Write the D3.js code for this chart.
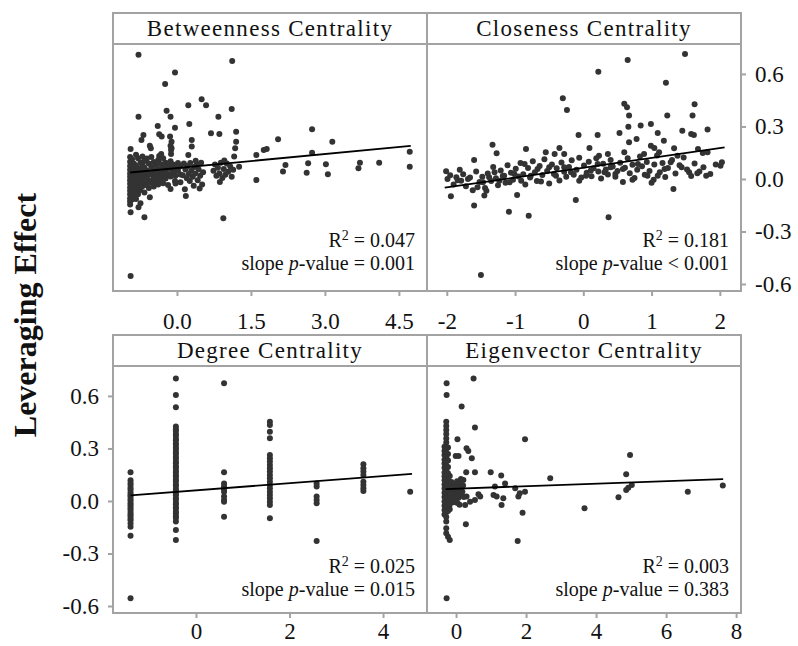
<!DOCTYPE html>
<html>
<head>
<meta charset="utf-8">
<script src="https://cdn.jsdelivr.net/npm/d3@7"></script>
<style>
  body { margin: 0; background: #fff; }
  text { font-family: "Liberation Serif", "Times New Roman", serif; fill: #111; }
</style>
</head>
<body>
<div id="chart"></div>
<script>
var svgWidth = 798;
var svgHeight = 646;

// panel titles, stats and ticks
var titles = ["Betweenness Centrality", "Closeness Centrality", "Degree Centrality", "Eigenvector Centrality"];
var r2Values = ["0.047", "0.181", "0.025", "0.003"];
var pValues = ["= 0.001", "< 0.001", "= 0.015", "= 0.383"];
var btwTicks = [0, 1.5, 3, 4.5];
var clsTicks = [-2, -1, 0, 1, 2];
var degTicks = [0, 2, 4];
var eigTicks = [0, 2, 4, 6, 8];
var yTicks = [-0.6, -0.3, 0, 0.3, 0.6];

// fitted lines (end points)
var btwLine = [[-0.95, 0.037], [4.74, 0.189]];
var clsLine = [[-2.03, -0.05], [2.07, 0.18]];
var degLine = [[-1.4, 0.032], [4.62, 0.155]];
var eigLine = [[-0.3, 0.068], [7.63, 0.125]];

// points [x, leveraging effect]
var btwPts = [
  [-0.78,0.709],[1.12,0.674],[-0.04,0.608],[-0.24,0.543],[0.50,0.455],[0.59,0.421],[0.23,0.421],[1.11,0.40],
  [-0.21,0.39],[-0.78,0.356],[-0.13,0.356],[0.84,0.356],[0.25,0.314],[-0.39,0.303],[-0.04,0.293],[2.74,0.284],
  [1.20,0.27],[0.69,0.261],[0.86,0.257],[-0.36,0.255],[-0.31,0.242],[-0.68,0.251],[-0.14,0.242],[2.05,0.227],
  [3.15,0.213],[-0.72,0.223],[0.30,0.223],[-0.11,0.213],[1.20,0.213],[-0.55,0.19],[0.30,0.185],[-0.53,0.175],
  [1.18,0.175],[-0.94,0.171],[-0.11,0.175],[1.82,0.171],[1.76,0.166],[1.61,0.137],[2.74,0.15],[-0.32,0.143],
  [-0.36,0.131],[1.16,0.128],[0.23,0.137],[4.72,0.156],[4.72,0.07],[4.10,0.093],[3.71,0.093],[3.68,0.061],
  [3.02,0.084],[3.06,0.027],[2.66,0.09],[2.63,0.036],[2.20,0.08],[2.15,0.042],[1.61,-0.006],[1.26,0.07],
  [0.94,-0.225],[-0.94,-0.19],[-0.78,-0.162],[-0.66,-0.219],[-0.55,-0.105],[-0.94,-0.554],[0.18,-0.097],
  [0.16,-0.059],[-0.04,-0.011],
  [-0.95,0.125],[-0.95,0.098],[-0.95,0.074],[-0.95,0.052],[-0.95,0.031],[-0.95,0.012],[-0.95,-0.008],
  [-0.95,-0.027],[-0.95,-0.049],[-0.95,-0.068],[-0.95,-0.087],[-0.95,-0.11],[-0.95,-0.128],[-0.95,-0.146],
  [-0.91,0.112],[-0.91,0.064],[-0.91,0.041],[-0.91,0.003],[-0.91,-0.036],[-0.91,-0.075],[-0.91,-0.118],
  [-0.87,0.087],[-0.87,0.053],[-0.87,0.021],[-0.87,-0.015],[-0.87,-0.058],[-0.87,-0.097],
  [-0.83,0.138],[-0.83,0.076],[-0.83,0.044],[-0.83,0.009],[-0.83,-0.032],[-0.83,-0.071],[-0.83,-0.114],
  [-0.79,0.118],[-0.79,0.061],[-0.79,0.027],[-0.79,-0.006],[-0.79,-0.046],[-0.79,-0.088],
  [-0.74,0.094],[-0.74,0.058],[-0.74,0.018],[-0.74,-0.021],[-0.74,-0.063],[-0.74,-0.139],
  [-0.70,0.129],[-0.70,0.079],[-0.70,0.037],[-0.70,0.001],[-0.70,-0.042],
  [-0.66,0.103],[-0.66,0.066],[-0.66,0.022],[-0.66,-0.018],[-0.66,-0.078],
  [-0.61,0.117],[-0.61,0.049],[-0.61,0.011],[-0.61,-0.036],
  [-0.57,0.088],[-0.57,0.033],[-0.57,-0.009],[-0.57,-0.052],
  [-0.52,0.126],[-0.52,0.069],[-0.52,0.024],[-0.52,-0.021],
  [-0.47,0.097],[-0.47,0.051],[-0.47,0.004],[-0.47,-0.043],
  [-0.43,0.081],[-0.43,0.032],[-0.43,-0.014],
  [-0.38,0.109],[-0.38,0.057],[-0.38,0.016],[-0.38,-0.031],
  [-0.33,0.085],[-0.33,0.039],[-0.33,-0.006],
  [-0.28,0.118],[-0.28,0.066],[-0.28,0.021],[-0.28,-0.024],
  [-0.23,0.092],[-0.23,0.047],[-0.23,0.003],
  [-0.18,0.074],[-0.18,0.028],[-0.18,-0.035],
  [-0.13,0.101],[-0.13,0.058],[-0.13,0.014],[-0.13,-0.058],
  [-0.08,0.083],[-0.08,0.037],[-0.03,0.065],[-0.03,0.019],[-0.03,-0.026],
  [0.02,0.091],[0.02,0.048],[0.07,0.072],[0.07,0.025],[0.07,-0.019],
  [-0.12,0.143],[-0.12,0.165],[-0.13,0.19],
  [0.14,0.088],[0.17,0.054],[0.21,0.073],[0.24,0.029],[0.27,0.091],[0.29,0.047],[0.32,0.012],[0.35,0.069],
  [0.37,0.031],[0.40,0.082],[0.42,-0.008],[0.44,0.054],[0.47,0.019],[0.49,0.093],[0.51,-0.031],[0.53,0.038],
  [0.26,-0.012],[0.20,0.004],[0.34,-0.039],[0.46,-0.055],[0.12,0.021],[0.38,0.104],
  [0.74,0.047],[0.77,0.082],[0.80,0.018],[0.83,0.064],[0.86,0.031],[0.89,0.093],[0.92,0.006],[0.95,0.057],
  [0.98,0.024],[1.01,0.088],[1.04,0.041],[1.08,0.071],[1.11,0.012],[0.87,-0.018],[0.96,0.106],[1.14,0.052]
];

var clsPts = [
  [1.49,0.714],[0.65,0.68],[0.22,0.613],[1.21,0.549],[-0.30,0.461],[-0.24,0.394],[0.60,0.429],[0.64,0.41],
  [1.63,0.427],[0.67,0.362],[1.23,0.362],[1.60,0.362],[0.66,0.299],[0.84,0.305],[0.99,0.314],[0.53,0.263],
  [0.21,0.251],[-0.07,0.251],[1.45,0.276],[1.58,0.257],[1.62,0.251],[1.82,0.282],[1.09,0.263],[-1.33,0.196],
  [0.78,0.229],[0.67,0.21],[1.18,0.219],[0.99,0.19],[1.04,0.177],[1.33,0.175],[-0.35,0.177],[0.09,0.177],
  [-1.60,0.109],[-1.27,0.147],[-0.84,0.171],[-0.55,0.152],[-0.42,0.143],[-0.28,0.143],[0.23,0.133],[0.36,0.143],
  [0.60,0.152],[0.89,0.143],[1.11,0.152],[1.38,0.133],[1.68,0.171],[1.75,0.149],[1.82,0.152],[-2.01,0.044],
  [-1.81,0.053],[-1.99,0.0],[-1.94,-0.099],[-1.60,-0.152],[-1.55,-0.048],[-1.45,-0.095],[-1.42,-0.067],
  [-1.09,-0.187],[-0.80,-0.21],[-0.97,-0.091],[-0.11,-0.12],[0.37,-0.219],[1.32,-0.057],[-1.50,-0.549],
  [2.01,0.076],[2.03,0.095],[1.80,0.019],[1.67,0.032],[1.55,0.038],[1.44,0.067],[1.28,0.095],[1.19,0.057],
  [1.09,0.019],[1.03,-0.004],[0.94,0.019],[0.80,0.086],[0.72,-0.004],[0.58,0.057],[0.47,0.029],[0.40,0.067],
  [0.31,0.038],[0.21,0.086],[0.11,0.048],[0.04,0.019],[-0.06,-0.01],[-0.18,0.038],[-0.28,0.067],[-0.40,0.019],
  [-0.50,0.067],[-0.62,-0.015],[-0.67,0.057],[-0.77,0.019],[-0.86,0.086],[-0.91,-0.01],[-1.01,0.029],
  [-1.08,-0.019],[-1.16,0.019],[-1.23,-0.01],[-1.30,0.038],[-1.38,0.01],[-1.47,-0.019],[-1.69,0.0],
  [-1.79,-0.01],[-1.86,0.01],
  [-1.95,0.021],[-1.9,-0.032],[-1.84,-0.008],[-1.76,0.027],[-1.72,-0.041],[-1.66,0.009],[-1.62,-0.064],
  [-1.57,0.043],[-1.52,-0.018],[-1.48,0.012],[-1.44,-0.052],[-1.40,0.031],[-1.35,-0.011],[-1.32,0.068],
  [-1.28,0.004],[-1.25,-0.036],[-1.21,0.049],[-1.18,0.017],[-1.14,-0.022],[-1.11,0.079],[-1.06,0.036],
  [-1.03,-0.005],[-0.99,0.058],[-0.95,0.014],[-0.92,0.091],[-0.88,0.027],[-0.85,-0.031],[-0.81,0.063],
  [-0.78,0.009],[-0.74,0.101],[-0.71,0.038],[-0.68,-0.012],[-0.64,0.074],[-0.6,0.022],[-0.57,0.112],
  [-0.53,0.045],[-0.5,-0.026],[-0.46,0.083],[-0.43,0.029],[-0.39,0.061],[-0.35,-0.009],[-0.32,0.094],
  [-0.28,0.041],[-0.25,0.012],[-0.21,0.069],[-0.17,0.107],[-0.14,0.024],[-0.1,0.052],[-0.06,0.121],
  [-0.03,0.008],[0.01,0.077],[0.05,0.035],[0.08,0.098],[0.12,0.016],[0.15,0.061],[0.19,0.119],[0.22,0.042],
  [0.26,0.003],[0.29,0.087],[0.33,0.054],[0.36,0.026],[0.4,0.108],[0.43,0.071],[0.47,0.012],[0.5,0.046],
  [0.54,0.093],[0.58,-0.018],[0.61,0.064],[0.65,0.118],[0.68,0.033],[0.72,0.081],[0.75,0.005],[0.79,0.052],
  [0.83,0.129],[0.86,0.072],[0.9,0.024],[0.93,0.097],[0.97,0.046],[1.0,-0.021],[1.04,0.083],[1.08,0.134],
  [1.12,0.039],[1.16,0.091],[1.2,0.011],[1.24,0.062],[1.3,0.108],[1.35,0.031],[1.41,0.079],[1.47,0.122],
  [1.52,0.054],[1.58,0.017],[1.63,0.088],[1.7,0.043],[1.76,0.067],[1.86,0.029],[1.94,0.083]
];

var degPts = [
  [-1.4,0.164],[-1.4,0.118],[-1.4,0.103],[-1.4,0.091],[-1.4,0.076],[-1.4,0.064],[-1.4,0.049],[-1.4,0.036],
  [-1.4,0.027],[-1.4,0.012],[-1.4,0.001],[-1.4,-0.013],[-1.4,-0.024],[-1.4,-0.038],[-1.4,-0.049],[-1.4,-0.063],
  [-1.4,-0.076],[-1.4,-0.087],[-1.4,-0.101],[-1.4,-0.112],[-1.4,-0.129],[-1.4,-0.148],[-1.4,-0.198],[-1.4,-0.556],
  [-0.43,0.70],[-0.43,0.606],[-0.43,0.535],[-0.43,0.425],[-0.43,0.409],[-0.43,0.399],[-0.43,0.382],[-0.43,0.372],
  [-0.43,0.355],[-0.43,0.347],[-0.43,0.329],[-0.43,0.319],[-0.43,0.304],[-0.43,0.293],[-0.43,0.277],[-0.43,0.268],
  [-0.43,0.251],[-0.43,0.241],[-0.43,0.224],[-0.43,0.215],[-0.43,0.198],[-0.43,0.189],[-0.43,0.173],[-0.43,0.162],
  [-0.43,0.147],[-0.43,0.137],[-0.43,0.121],[-0.43,0.111],[-0.43,0.094],[-0.43,0.085],[-0.43,0.068],[-0.43,0.058],
  [-0.43,0.043],[-0.43,0.032],[-0.43,0.016],[-0.43,0.007],[-0.43,-0.01],[-0.43,-0.019],[-0.43,-0.036],[-0.43,-0.045],
  [-0.43,-0.061],[-0.43,-0.071],[-0.43,-0.088],[-0.43,-0.097],[-0.43,-0.118],[-0.43,-0.166],[-0.43,-0.223],
  [0.6,0.672],[0.6,0.164],[0.6,0.10],[0.6,0.082],[0.6,0.068],[0.6,0.053],[0.6,0.025],[0.6,0.006],[0.6,-0.004],[0.6,-0.09],
  [1.58,0.453],[1.58,0.434],[1.58,0.396],[1.58,0.358],[1.58,0.263],[1.58,0.244],[1.58,0.225],[1.58,0.206],
  [1.58,0.187],[1.58,0.168],[1.58,0.149],[1.58,0.13],[1.58,0.11],[1.58,0.091],[1.58,0.072],[1.58,0.053],
  [1.58,0.034],[1.58,0.015],[1.58,-0.004],[1.58,-0.023],[1.58,-0.099],
  [2.58,0.10],[2.58,0.082],[2.58,0.025],[2.58,0.006],[2.58,-0.013],[2.58,-0.229],
  [3.58,0.21],[3.58,0.187],[3.58,0.168],[3.58,0.149],[3.58,0.11],[3.58,0.091],[3.58,0.072],[3.58,0.057],
  [4.58,0.053]
];

var eigPts = [
  [-0.27,0.672],[-0.27,0.606],[0.50,0.70],[0.16,0.539],[0.54,0.419],[1.97,0.352],[0.04,0.352],[0.30,0.301],
  [0.35,0.286],[-0.01,0.257],[0.07,0.257],[0.45,0.244],[4.97,0.263],[0.29,0.164],[0.54,0.164],[0.99,0.164],
  [1.29,0.145],[4.86,0.152],[2.69,0.13],[0.21,0.12],[1.40,0.10],[1.11,0.082],[1.69,0.072],[1.97,0.053],
  [1.78,0.025],[1.82,0.044],[1.07,0.034],[1.16,0.025],[1.35,0.015],[1.30,-0.023],[0.69,0.025],[0.54,0.006],
  [0.64,0.038],[0.30,0.025],[0.40,-0.004],[0.26,-0.023],[0.28,-0.133],[1.90,-0.067],[1.76,-0.229],[3.67,-0.042],
  [4.64,0.021],[4.86,0.063],[4.92,0.076],[5.02,0.091],[6.62,0.053],[7.62,0.088],[-0.27,-0.556],
  [-0.33,0.31],[-0.33,0.285],[-0.33,0.262],[-0.33,0.236],[-0.33,0.214],[-0.33,0.19],[-0.33,0.163],[-0.33,0.141],
  [-0.33,0.118],[-0.33,0.094],[-0.33,0.071],[-0.33,0.047],[-0.33,0.022],[-0.33,-0.003],[-0.33,-0.027],
  [-0.33,-0.052],[-0.33,-0.078],
  [-0.28,0.452],[-0.28,0.428],[-0.28,0.405],[-0.28,0.383],[-0.28,0.357],[-0.28,0.334],[-0.28,0.299],[-0.28,0.274],
  [-0.28,0.249],[-0.28,0.226],[-0.28,0.201],[-0.28,0.177],[-0.28,0.152],[-0.28,0.129],[-0.28,0.106],[-0.28,0.083],
  [-0.28,0.058],[-0.28,0.035],[-0.28,0.011],[-0.28,-0.014],[-0.28,-0.04],[-0.28,-0.065],[-0.28,-0.091],
  [-0.28,-0.118],[-0.28,-0.156],[-0.28,-0.185],
  [-0.23,0.305],[-0.23,0.268],[-0.23,0.231],[-0.23,0.194],[-0.23,0.158],[-0.23,0.121],[-0.23,0.087],[-0.23,0.064],
  [-0.23,0.041],[-0.23,0.018],[-0.23,-0.006],[-0.23,-0.031],[-0.23,-0.058],[-0.23,-0.204],
  [-0.18,0.142],[-0.18,0.098],[-0.18,0.076],[-0.18,0.052],[-0.18,0.029],[-0.18,0.004],[-0.18,-0.021],
  [-0.18,-0.047],[-0.18,-0.223],
  [-0.13,0.108],[-0.1,0.081],[-0.08,0.054],[-0.05,0.096],[-0.03,0.032],[0.0,0.068],[0.02,0.041],[0.05,0.087],
  [0.07,0.018],[0.09,0.059],[0.11,0.103],[0.13,0.037],[0.15,0.074],[0.18,0.052],[0.2,0.089],[0.22,0.023],
  [-0.12,0.013],[-0.07,-0.008],[-0.02,0.005],[0.04,-0.012],[0.1,-0.021],[-0.15,0.041],[0.14,0.126],[0.03,0.112]
];

// tick format with a plain hyphen as minus
function hyphen(f) {
  return function(d) { return f(d).replace("\u2212", "-"); };
}

var panels = [
  { title: titles[0], pts: btwPts, line: btwLine, ticks: btwTicks, fmt: hyphen(d3.format(".1f")), dom: [-1.297, 5.07], col: 0, row: 0, yAxis: null },
  { title: titles[1], pts: clsPts, line: clsLine, ticks: clsTicks, fmt: hyphen(d3.format("d")), dom: [-2.29, 2.31], col: 1, row: 0, yAxis: "right" },
  { title: titles[2], pts: degPts, line: degLine, ticks: degTicks, fmt: hyphen(d3.format("d")), dom: [-1.775, 4.94], col: 0, row: 1, yAxis: "left" },
  { title: titles[3], pts: eigPts, line: eigLine, ticks: eigTicks, fmt: hyphen(d3.format("d")), dom: [-0.83, 8.14], col: 1, row: 1, yAxis: null }
];

var colX = [113, 427, 741];
var rowTop = [13, 335];
var stripH = 31;
var plotH = 247;
var labelPad = [17, 5];
var statsOffset = [[44, 21], [40, 17]];
var frameColor = "#a3a3a3";

var svg = d3.select("#chart")
  .append("svg")
  .attr("width", svgWidth)
  .attr("height", svgHeight);

panels.forEach(function(p, i) {
  var left = colX[p.col];
  var right = colX[p.col + 1];
  var stripTop = rowTop[p.row];
  var plotTop = stripTop + stripH;
  var plotBottom = plotTop + plotH;

  var x = d3.scaleLinear().domain(p.dom).range([left, right]);
  var y = d3.scaleLinear().domain([-0.64, 0.771]).range([plotBottom, plotTop]);

  var g = svg.append("g");

  // points
  g.append("g").selectAll("circle")
    .data(p.pts)
    .enter()
    .append("circle")
    .attr("cx", d => x(d[0]))
    .attr("cy", d => y(d[1]))
    .attr("r", 3)
    .attr("fill", "#333");

  // regression line
  g.append("line")
    .attr("x1", x(p.line[0][0]))
    .attr("y1", y(p.line[0][1]))
    .attr("x2", x(p.line[1][0]))
    .attr("y2", y(p.line[1][1]))
    .attr("stroke", "#000")
    .attr("stroke-width", 1.8);

  // frames
  g.append("rect")
    .attr("x", left).attr("y", stripTop)
    .attr("width", right - left).attr("height", stripH)
    .attr("fill", "none").attr("stroke", frameColor).attr("stroke-width", 2);
  g.append("rect")
    .attr("x", left).attr("y", plotTop)
    .attr("width", right - left).attr("height", plotH)
    .attr("fill", "none").attr("stroke", frameColor).attr("stroke-width", 2);

  // strip title
  g.append("text")
    .attr("x", (left + right) / 2)
    .attr("y", stripTop + 23)
    .attr("text-anchor", "middle")
    .attr("font-size", 23)
    .attr("letter-spacing", 1.3)
    .text(p.title);

  // x axis
  var xAxis = g.append("g")
    .attr("transform", `translate(0, ${plotBottom})`)
    .call(d3.axisBottom(x).tickValues(p.ticks).tickFormat(p.fmt).tickSize(5).tickPadding(labelPad[p.row]));
  xAxis.select(".domain").remove();

  // y axis
  if (p.yAxis) {
    var axisFn = p.yAxis === "right" ? d3.axisRight(y) : d3.axisLeft(y);
    var yAx = g.append("g")
      .attr("transform", `translate(${p.yAxis === "right" ? right : left}, 0)`)
      .call(axisFn.tickValues(yTicks).tickFormat(hyphen(d3.format(".1f"))).tickSize(5).tickPadding(9));
    yAx.select(".domain").remove();
    styleAxis(yAx);
  }
  styleAxis(xAxis);

  // stats text
  var sx = right - 12;
  var t1 = g.append("text")
    .attr("x", sx).attr("y", plotBottom - statsOffset[p.row][0])
    .attr("text-anchor", "end").attr("font-size", 20);
  t1.append("tspan").text("R");
  t1.append("tspan").attr("dy", -7).attr("font-size", 14).text("2");
  t1.append("tspan").attr("dy", 7).text(" = " + r2Values[i]);

  var t2 = g.append("text")
    .attr("x", sx).attr("y", plotBottom - statsOffset[p.row][1])
    .attr("text-anchor", "end").attr("font-size", 20);
  t2.append("tspan").text("slope ");
  t2.append("tspan").attr("font-style", "italic").text("p");
  t2.append("tspan").text("-value " + pValues[i]);
});

function styleAxis(ax) {
  ax.selectAll(".tick line").attr("stroke", frameColor).attr("stroke-width", 2);
  ax.selectAll(".tick text")
    .attr("font-size", 23)
    .attr("fill", "#111")
    .style("font-family", '"Liberation Serif", "Times New Roman", serif');
}

// shared y label
svg.append("text")
  .attr("transform", "translate(36, 315) rotate(-90)")
  .attr("text-anchor", "middle")
  .attr("font-size", 32)
  .attr("font-weight", "bold")
  .text("Leveraging Effect");
</script>
</body>
</html>
